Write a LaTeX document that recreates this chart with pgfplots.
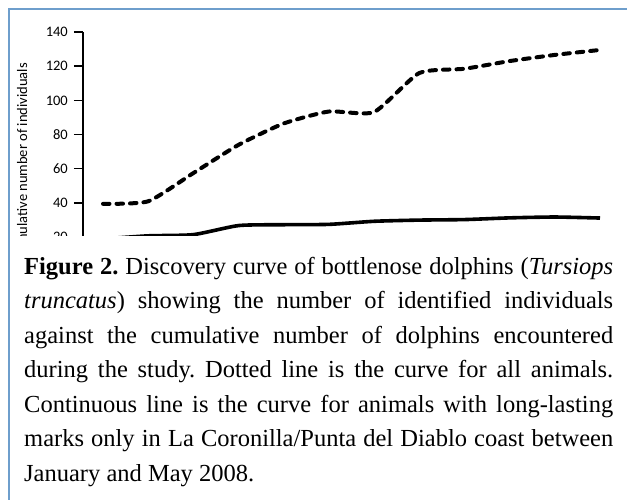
\documentclass[border=0pt]{standalone}
\usepackage{fontspec}
\setmainfont{Liberation Serif}
\newfontfamily\calibri{Carlito}
\usepackage{pgfplots}
\pgfplotsset{compat=1.18}
\definecolor{borderblue}{RGB}{110,158,204}
\begin{document}
\begin{tikzpicture}
\path[use as bounding box] (0,0) rectangle (627pt,500pt);
\begin{scope}
\clip (0,264pt) rectangle (627pt,500pt);
\begin{axis}[
  at={(83pt,228.6pt)}, anchor=south west,
  scale only axis, width=539.6pt, height=239.4pt,
  xmin=-0.4427, xmax=11.5, ymin=0, ymax=140,
  axis x line=none, axis y line=left,
  axis line style={-, line width=1.6pt},
  ytick={0,20,...,140},
  tick align=outside, major tick length=9pt,
  tick style={black, line width=1.4pt},
  /pgf/number format/assume math mode=true,
  yticklabel style={font=\calibri\fontsize{14.5}{16}\selectfont, inner sep=0pt, xshift=-6pt},
  ylabel={Cumulative number of individuals},
  ylabel style={font=\calibri\fontsize{14.5}{16}\selectfont, at={(axis description cs:-0.113,0.8705)}, anchor=east, inner sep=0pt},
  clip=false,
]
\addplot[black, line width=4pt, line cap=round, dash pattern=on 6.5pt off 7pt, smooth, tension=0.35] coordinates {
 (0,39.5) (1,41) (2,57.5) (3,74) (4,86.5) (5,93.5) (6,93.2) (7,116) (8,118.5) (9,123) (10,126.6) (11,129.5)};
\addplot[black, line width=3.6pt, smooth, tension=0.35] coordinates {
 (0,19) (1,20.8) (2,21.5) (3,26.8) (4,27.3) (5,27.5) (6,29.3) (7,30) (8,30.3) (9,31.3) (10,31.8) (11,31.2)};
\end{axis}
\end{scope}
\draw[borderblue, line width=2pt] (9pt,0) -- (9pt,491pt) -- (627pt,491pt);
\node[anchor=base west, inner sep=0pt] at (24pt,225.5pt) {\parbox[t]{589pt}{\fontsize{24.5}{34.5}\selectfont\frenchspacing
\textbf{Figure 2.} Discovery curve of bottlenose dolphins (\textit{Tursiops}\linebreak
\textit{truncatus}) showing the number of identified individuals\linebreak
against the cumulative number of dolphins encountered\linebreak
during the study. Dotted line is the curve for all animals.\linebreak
Continuous line is the curve for animals with long-lasting\linebreak
marks only in La Coronilla/Punta del Diablo coast between\linebreak
January and May 2008.}};
\end{tikzpicture}
\end{document}
